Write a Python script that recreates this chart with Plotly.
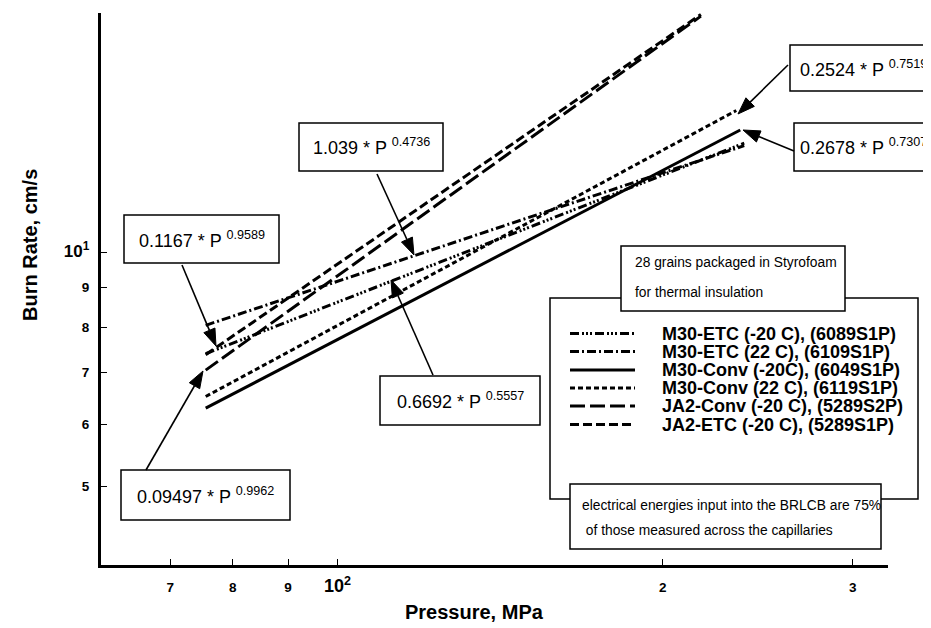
import math
import plotly.graph_objects as go

# ---------------- data ----------------
series_names = [
    "M30-ETC (-20 C), (6089S1P)",
    "M30-ETC (22 C), (6109S1P)",
    "M30-Conv (-20C), (6049S1P)",
    "M30-Conv (22 C), (6119S1P)",
    "JA2-Conv (-20 C), (5289S2P)",
    "JA2-ETC (-20 C), (5289S1P)",
]
pressure_m30_etc_m20 = [75.5, 238.0]
burn_m30_etc_m20 = [7.40, 13.8]
pressure_m30_etc_22 = [75.5, 238.0]
burn_m30_etc_22 = [8.05, 13.7]
pressure_m30_conv_m20 = [75.5, 236.0]
burn_m30_conv_m20 = [6.30, 14.35]
pressure_m30_conv_22 = [75.5, 234.0]
burn_m30_conv_22 = [6.52, 15.2]
pressure_ja2_conv_m20 = [75.5, 217.0]
burn_ja2_conv_m20 = [7.05, 20.1]
pressure_ja2_etc_m20 = [75.5, 217.0]
burn_ja2_etc_m20 = [7.38, 20.2]

fit_labels = [
    "0.2524 * P <sup>0.7519</sup>",
    "0.2678 * P <sup>0.7307</sup>",
    "1.039 * P <sup>0.4736</sup>",
    "0.1167 * P <sup>0.9589</sup>",
    "0.09497 * P <sup>0.9962</sup>",
    "0.6692 * P <sup>0.5557</sup>",
]
x_tick_vals = [70, 80, 90, 100, 200, 300]
x_tick_text = ["7", "8", "9", "<span style='font-size:18px'>10<sup>2</sup></span>", "2", "3"]
y_tick_vals = [5, 6, 7, 8, 9, 10]
y_tick_text = ["5", "6", "7", "8", "9", "<span style='font-size:17px'>10<sup>1</sup></span>"]

# ---------------- styling ----------------
W, H = 931, 628
L, R, T, B = 93, 880, 5, 557
FONT = "Liberation Sans, Arial, sans-serif"


def px(x):
    return (x - L) / (R - L)


def py(y):
    return (B - y) / (B - T)


dashes = [
    "9px,3px,2px,2px,2px,2px,2px,3px",
    "9px,3px,2px,3px",
    "solid",
    "5px,3px",
    "15px,5px",
    "9px,4px",
]
series_data = [
    (pressure_m30_etc_m20, burn_m30_etc_m20),
    (pressure_m30_etc_22, burn_m30_etc_22),
    (pressure_m30_conv_m20, burn_m30_conv_m20),
    (pressure_m30_conv_22, burn_m30_conv_22),
    (pressure_ja2_conv_m20, burn_ja2_conv_m20),
    (pressure_ja2_etc_m20, burn_ja2_etc_m20),
]

fig = go.Figure()
for name, (p, r), d in zip(series_names, series_data, dashes):
    fig.add_trace(go.Scatter(x=p, y=r, mode="lines", name=name, showlegend=False,
                             line=dict(color="black", width=3, dash=d)))

shapes = []
annotations = []

# legend frame and notes
shapes.append(dict(type="rect", xref="paper", yref="paper", x0=px(542), x1=px(910),
                   y0=py(491), y1=py(290), line=dict(color="black", width=1.5), layer="above"))
shapes.append(dict(type="rect", xref="paper", yref="paper", x0=px(613), x1=px(837),
                   y0=py(303), y1=py(238), line=dict(color="black", width=1.5),
                   fillcolor="white", layer="above"))
shapes.append(dict(type="rect", xref="paper", yref="paper", x0=px(562), x1=px(873),
                   y0=py(541), y1=py(476), line=dict(color="black", width=1.5),
                   fillcolor="white", layer="above"))
note_lines = [
    ("28 grains packaged in Styrofoam", 625, 254),
    ("for thermal insulation", 625, 284),
    ("electrical energies input into the BRLCB are 75%", 572, 497),
    (" of those measured across the capillaries", 572, 522),
]
for txt, x, y in note_lines:
    annotations.append(dict(text=txt, xref="paper", yref="paper", x=px(x), y=py(y),
                            xanchor="left", yanchor="middle", showarrow=False,
                            font=dict(family=FONT, size=13.8, color="black")))

legend_rows = [325.5, 343.5, 362, 380, 398, 416.5]
for name, d, y in zip(series_names, dashes, legend_rows):
    shapes.append(dict(type="line", xref="paper", yref="paper", x0=px(562), x1=px(627),
                       y0=py(y), y1=py(y), line=dict(color="black", width=3, dash=d),
                       layer="above"))
    annotations.append(dict(text=name, xref="paper", yref="paper", x=px(652), y=py(y),
                            xanchor="left", yanchor="middle", showarrow=False,
                            font=dict(family=FONT, size=18, color="black", weight="bold")))

# fit boxes: (x0, x1, y0, y1, text x, anchor)
boxes = [
    (782, 945, 37, 83, 921, "right"),
    (786, 945, 115, 163, 921, "right"),
    (291, 435, 115, 163, 363, "center"),
    (116, 271, 207, 255, 193.5, "center"),
    (113, 282, 462, 512, 197.5, "center"),
    (372, 532, 368, 417, 452, "center"),
]
for lab, (x0, x1, y0, y1, tx, anc) in zip(fit_labels, boxes):
    shapes.append(dict(type="rect", xref="paper", yref="paper", x0=px(x0), x1=px(x1),
                       y0=py(y1), y1=py(y0), line=dict(color="black", width=1.5),
                       fillcolor="white", layer="above"))
    annotations.append(dict(text=lab, xref="paper", yref="paper", x=px(tx),
                            y=py((y0 + y1) / 2), xanchor=anc, yanchor="middle",
                            showarrow=False,
                            font=dict(family=FONT, size=18, color="black")))

# arrows (tail, tip) in pixels, drawn as a shaft plus a filled head
arrows = [
    ((780, 57), (730, 106)),
    ((786, 143), (735, 122)),
    ((369, 166), (406, 247)),
    ((174, 257), (208, 338)),
    ((138, 462), (195, 363)),
    ((425, 367), (383, 272)),
]
HEAD_L, HEAD_W = 17, 6
for (tx, ty), (hx, hy) in arrows:
    dx, dy = hx - tx, hy - ty
    n = math.hypot(dx, dy)
    ux, uy = dx / n, dy / n
    bx, by = hx - HEAD_L * ux, hy - HEAD_L * uy
    nx, ny = -uy, ux
    shapes.append(dict(type="line", xref="paper", yref="paper",
                       x0=px(tx), y0=py(ty), x1=px(bx), y1=py(by),
                       line=dict(color="black", width=1.6), layer="above"))
    pts = [(hx, hy), (bx + HEAD_W * nx, by + HEAD_W * ny), (bx - HEAD_W * nx, by - HEAD_W * ny)]
    path = "M{:.5f},{:.5f} L{:.5f},{:.5f} L{:.5f},{:.5f} Z".format(
        px(pts[0][0]), py(pts[0][1]), px(pts[1][0]), py(pts[1][1]), px(pts[2][0]), py(pts[2][1]))
    shapes.append(dict(type="path", xref="paper", yref="paper", path=path,
                       fillcolor="black", line=dict(color="black", width=1), layer="above"))

# axis titles
annotations.append(dict(text="Burn Rate, cm/s", xref="paper", yref="paper",
                        x=px(22), y=py(237), textangle=-90, showarrow=False,
                        xanchor="center", yanchor="middle",
                        font=dict(family=FONT, size=20, color="black", weight="bold")))
annotations.append(dict(text="Pressure, MPa", xref="paper", yref="paper",
                        x=px(466), y=py(604), showarrow=False,
                        xanchor="center", yanchor="middle",
                        font=dict(family=FONT, size=20, color="black", weight="bold")))

fig.update_layout(
    width=W, height=H,
    margin=dict(l=L, r=W - R, t=T, b=H - B, pad=0),
    paper_bgcolor="white", plot_bgcolor="white",
    showlegend=False,
    shapes=shapes, annotations=annotations,
    xaxis=dict(type="log", range=[1.781, 2.5097], showgrid=False, zeroline=False,
               showline=True, linecolor="black", linewidth=3,
               ticks="inside", ticklen=6, tickwidth=1, tickcolor="black",
               tickvals=x_tick_vals, ticktext=x_tick_text, ticklabelstandoff=8,
               tickfont=dict(family=FONT, size=13.5, color="black", weight="bold")),
    yaxis=dict(type="log", range=[0.5977, 1.3072], showgrid=False, zeroline=False,
               showline=True, linecolor="black", linewidth=3,
               ticks="inside", ticklen=6, tickwidth=1, tickcolor="black",
               tickvals=y_tick_vals, ticktext=y_tick_text, ticklabelstandoff=6,
               tickfont=dict(family=FONT, size=13.5, color="black", weight="bold")),
)

fig.write_html("out.html")
